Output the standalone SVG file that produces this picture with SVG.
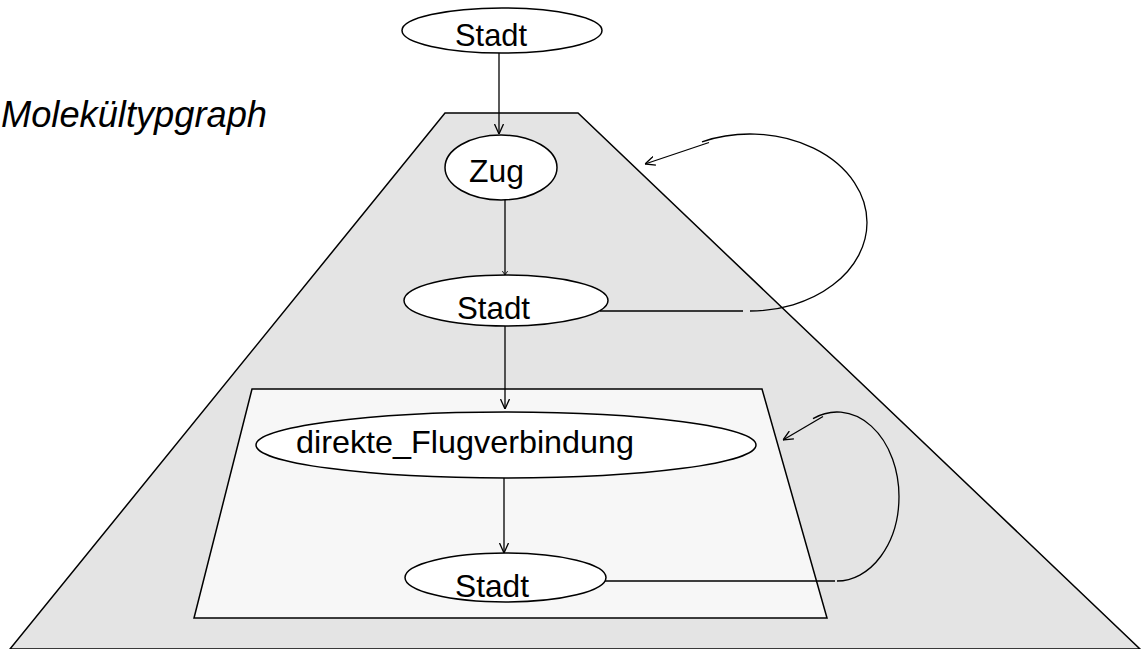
<svg xmlns="http://www.w3.org/2000/svg" width="1147" height="649" viewBox="0 0 1147 649">
  <style>
    .frame { stroke: #000; stroke-width: 1.5; }
    .node ellipse { fill: #fff; stroke: #000; stroke-width: 1.5; }
    .label { font-family: "Liberation Sans", Arial, sans-serif; font-size: 32px; fill: #000; }
    .title { font-family: "Liberation Sans", Arial, sans-serif; font-size: 36px; font-style: italic; fill: #000; }
    .edge { fill: none; stroke: #000; stroke-width: 1.3; }
  </style>
  <defs>
    <marker id="arrow" viewBox="0 0 10 10" refX="10" refY="5" markerWidth="10" markerHeight="10" markerUnits="userSpaceOnUse" orient="auto">
      <path d="M0,0.5 L10,5 L0,9.5" fill="none" stroke="#000" stroke-width="1.3"/>
    </marker>
    <marker id="arrowSmall" viewBox="0 0 6 8" refX="6" refY="4" markerWidth="4" markerHeight="7" markerUnits="userSpaceOnUse" orient="auto">
      <path d="M0,0 L6,4 L0,8" fill="none" stroke="#000" stroke-width="1.3"/>
    </marker>
  </defs>

  <rect width="1147" height="649" fill="#fff"/>

  <!-- molecule type graph frame -->
  <polygon id="molecule-frame" class="frame" points="445,113 578,113 1140,649 10,649" fill="#e4e4e4"/>
  <!-- inner frame for the nested molecule -->
  <polygon id="inner-frame" class="frame" points="252,389 762,389 827,618 194,618" fill="#f7f7f7"/>

  <text class="title" x="1" y="127" textLength="266" lengthAdjust="spacingAndGlyphs">Molekültypgraph</text>

  <!-- connectors -->
  <g id="connectors">
    <line class="edge" x1="499" y1="53" x2="499" y2="134" marker-end="url(#arrow)"/>
    <line class="edge" x1="505" y1="200" x2="505" y2="275" marker-end="url(#arrowSmall)"/>
    <line class="edge" x1="505" y1="326" x2="505" y2="409" marker-end="url(#arrow)"/>
    <line class="edge" x1="504" y1="478" x2="504" y2="553" marker-end="url(#arrow)"/>

    <!-- upper recursion loop -->
    <line class="edge" x1="600" y1="311" x2="743" y2="311"/>
    <path class="edge" d="M750,311 A117,88.5 0 0 0 867,222.5 A117,88.5 0 0 0 702,141.8"/>
    <line class="edge" x1="709" y1="142.5" x2="645" y2="164" marker-end="url(#arrow)"/>

    <!-- lower recursion loop -->
    <line class="edge" x1="600" y1="581" x2="835" y2="581"/>
    <path class="edge" d="M837,581 A62,84.5 0 0 0 899,496.5 A62,84.5 0 0 0 813,418.6"/>
    <line class="edge" x1="823" y1="416.5" x2="783" y2="440" marker-end="url(#arrow)"/>
  </g>

  <g id="stadt-top" class="node">
    <ellipse cx="502" cy="30.5" rx="100" ry="22.5"/>
    <text class="label" x="455" y="46" textLength="72" lengthAdjust="spacingAndGlyphs">Stadt</text>
  </g>
  <g id="zug" class="node">
    <ellipse cx="501" cy="167.5" rx="56" ry="32.5"/>
    <text class="label" x="469" y="182" textLength="55" lengthAdjust="spacingAndGlyphs">Zug</text>
  </g>
  <g id="stadt-middle" class="node">
    <ellipse cx="506" cy="300.5" rx="102" ry="25.5"/>
    <text class="label" x="457" y="319" textLength="73" lengthAdjust="spacingAndGlyphs">Stadt</text>
  </g>
  <g id="direkte-flugverbindung" class="node">
    <ellipse cx="506" cy="445" rx="250" ry="33"/>
    <text class="label" x="296" y="453" textLength="338" lengthAdjust="spacingAndGlyphs">direkte_Flugverbindung</text>
  </g>
  <g id="stadt-bottom" class="node">
    <ellipse cx="505.5" cy="577.5" rx="100.5" ry="24.5"/>
    <text class="label" x="455" y="597" textLength="74" lengthAdjust="spacingAndGlyphs">Stadt</text>
  </g>
</svg>
